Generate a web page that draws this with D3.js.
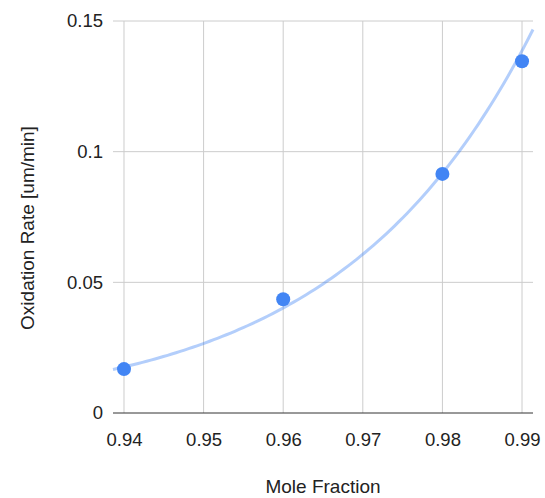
<!DOCTYPE html>
<html>
<head>
<meta charset="utf-8">
<script src="https://cdn.jsdelivr.net/npm/d3@7"></script>
<style>
  html, body { margin: 0; padding: 0; background: #fff; }
  svg { display: block; font-family: "Liberation Sans", Arial, sans-serif; }
</style>
</head>
<body>
<svg id="chart" width="545" height="498"></svg>
<script>
// Measured oxidation rate against mole fraction
const moleFraction = [0.94, 0.96, 0.98, 0.99];
const oxidationRate = [0.0168, 0.0435, 0.0915, 0.1346];

const xTicks = [0.94, 0.95, 0.96, 0.97, 0.98, 0.99];
const yTicks = [0, 0.05, 0.1, 0.15];
const xTickLabels = ["0.94", "0.95", "0.96", "0.97", "0.98", "0.99"];
const yTickLabels = ["0", "0.05", "0.1", "0.15"];

const xTitle = "Mole Fraction";
const yTitle = "Oxidation Rate [um/min]";

const svg = d3.select("#chart");
const plot = { left: 113, right: 533, top: 21, bottom: 413 };

const x = d3.scaleLinear().domain([0.93862, 0.99138]).range([plot.left, plot.right]);
const y = d3.scaleLinear().domain([0, 0.15]).range([plot.bottom, plot.top]);

// Gridlines
svg.append("g")
  .selectAll("line.h")
  .data(yTicks.filter(d => d > 0))
  .join("line")
  .attr("x1", plot.left).attr("x2", plot.right)
  .attr("y1", d => y(d)).attr("y2", d => y(d))
  .attr("stroke", "#cccccc").attr("stroke-width", 1);

svg.append("g")
  .selectAll("line.v")
  .data(xTicks)
  .join("line")
  .attr("x1", d => x(d)).attr("x2", d => x(d))
  .attr("y1", plot.top).attr("y2", plot.bottom)
  .attr("stroke", "#cccccc").attr("stroke-width", 1);

// Baseline
svg.append("line")
  .attr("x1", plot.left).attr("x2", plot.right)
  .attr("y1", y(0)).attr("y2", y(0))
  .attr("stroke", "#333333").attr("stroke-width", 1);

// Tick labels via axis generators, with domain paths and tick lines hidden
const xAxis = svg.append("g")
  .attr("transform", `translate(0,${plot.bottom})`)
  .call(d3.axisBottom(x).tickValues(xTicks).tickFormat((d, i) => xTickLabels[i]).tickSize(0).tickPadding(20));
xAxis.select(".domain").remove();
xAxis.selectAll("text").attr("font-size", "18.5px").attr("fill", "#222").attr("font-family", "Liberation Sans, Arial, sans-serif");

const yAxis = svg.append("g")
  .attr("transform", `translate(${plot.left},0)`)
  .call(d3.axisLeft(y).tickValues(yTicks).tickFormat((d, i) => yTickLabels[i]).tickSize(0).tickPadding(10));
yAxis.select(".domain").remove();
yAxis.selectAll("text").attr("font-size", "18.5px").attr("fill", "#222").attr("font-family", "Liberation Sans, Arial, sans-serif");

// Exponential trendline: least squares on ln(y)
const lnY = oxidationRate.map(Math.log);
const mx = d3.mean(moleFraction), my = d3.mean(lnY);
let sxy = 0, sxx = 0;
moleFraction.forEach((v, i) => { sxy += (v - mx) * (lnY[i] - my); sxx += (v - mx) * (v - mx); });
const b = sxy / sxx;
const a = my - b * mx;
const [x0, x1] = x.domain();
const trendPts = d3.range(0, 101).map(k => {
  const xv = x0 + (x1 - x0) * k / 100;
  return [xv, Math.exp(a + b * xv)];
});
svg.append("path")
  .datum(trendPts)
  .attr("fill", "none")
  .attr("stroke", "#4285f4")
  .attr("stroke-opacity", 0.4)
  .attr("stroke-width", 3)
  .attr("stroke-linecap", "butt")
  .attr("d", d3.line().x(d => x(d[0])).y(d => y(d[1])));

// Data points
svg.append("g")
  .selectAll("circle")
  .data(moleFraction.map((v, i) => [v, oxidationRate[i]]))
  .join("circle")
  .attr("cx", d => x(d[0]))
  .attr("cy", d => y(d[1]))
  .attr("r", 7)
  .attr("fill", "#4285f4");

// Axis titles
svg.append("text")
  .attr("x", 323).attr("y", 493)
  .attr("text-anchor", "middle")
  .attr("font-size", "19px").attr("fill", "#222")
  .text(xTitle);

svg.append("text")
  .attr("transform", "translate(34,228) rotate(-90)")
  .attr("text-anchor", "middle")
  .attr("font-size", "19px").attr("fill", "#222")
  .text(yTitle);
</script>
</body>
</html>
